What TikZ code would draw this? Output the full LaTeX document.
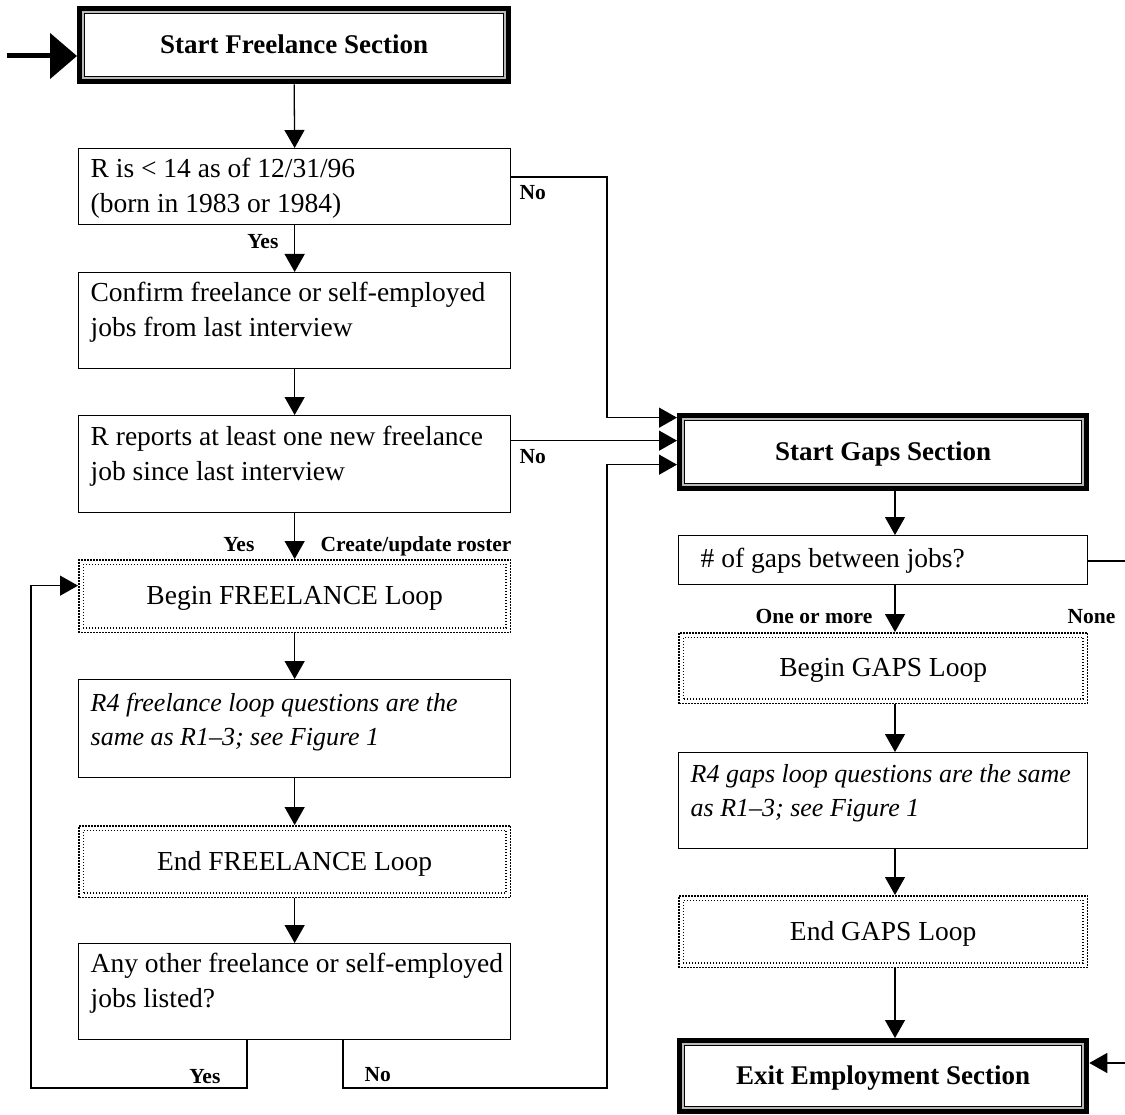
\documentclass[tikz,border=0pt]{standalone}
\usepackage{fontspec}
\setmainfont{Liberation Serif}
\usetikzlibrary{arrows.meta}

% heavy double frame of the section boxes
\newcommand\secframe[1]{%
  \draw[line width=5pt] ([xshift=2.5pt,yshift=2.5pt]#1.south west) rectangle ([xshift=-2.5pt,yshift=-2.5pt]#1.north east);
  \draw[gray!55,line width=2pt] ([xshift=6pt,yshift=6pt]#1.south west) rectangle ([xshift=-6pt,yshift=-6pt]#1.north east);
  \draw[line width=1.2pt] ([xshift=7.6pt,yshift=7.6pt]#1.south west) rectangle ([xshift=-7.6pt,yshift=-7.6pt]#1.north east);}
% double dotted frame of the loop boxes
\newcommand\loopframe[1]{%
  \draw[dotline] ([xshift=.8pt,yshift=.8pt]#1.south west) rectangle ([xshift=-.8pt,yshift=-.8pt]#1.north east);
  \draw[dotline] ([xshift=5.3pt,yshift=5.3pt]#1.south west) rectangle ([xshift=-5.3pt,yshift=-5.3pt]#1.north east);}

\begin{document}
\begin{tikzpicture}[x=1pt,y=-1pt,line width=1.3pt,
  plainbox/.style={draw,line width=1.3pt,anchor=north west,inner sep=0pt},
  framebox/.style={anchor=north west,inner sep=0pt,font=\fontsize{27}{33}\selectfont\bfseries,
    text height=17pt,text depth=0pt},
  loopbox/.style={anchor=north west,inner sep=0pt,font=\fontsize{27.5}{35}\selectfont,
    text height=17pt,text depth=0pt},
  dotline/.style={line width=1.6pt,dash pattern=on 1.5pt off 1.5pt},
  txt/.style={anchor=base west,align=left,inner sep=0pt,font=\fontsize{27.5}{35}\selectfont},
  itxt/.style={anchor=base west,align=left,inner sep=0pt,font=\fontsize{26}{34}\selectfont\itshape},
  lbl/.style={inner sep=0pt,font=\fontsize{21.5}{24}\selectfont\bfseries},
  arr/.style={line width=1.3pt,-{Triangle[length=18pt,width=20pt]}}]

\fill[white] (0,0) rectangle (1125,1115);
\useasboundingbox (0,0) rectangle (1125,1115);

% ---------- freelance column ----------
\node[framebox,minimum width=433pt,minimum height=77pt] (sf) at (77,6) {Start Freelance Section};
\secframe{sf}
\node[plainbox,minimum width=432pt,minimum height=76pt] (b2) at (78,148) {};
\node[plainbox,minimum width=432pt,minimum height=96pt] (b3) at (78,272) {};
\node[plainbox,minimum width=432pt,minimum height=97pt] (b4) at (78,415) {};
\node[loopbox,minimum width=432pt,minimum height=73pt] (l1) at (78,559) {Begin FREELANCE Loop};
\loopframe{l1}
\node[plainbox,minimum width=432pt,minimum height=98pt] (b5) at (78,679) {};
\node[loopbox,minimum width=432pt,minimum height=72pt] (l2) at (78,825) {End FREELANCE Loop};
\loopframe{l2}
\node[plainbox,minimum width=432pt,minimum height=96pt] (b6) at (78,943) {};

% texts placed by the baseline of their last line
\node[txt] (t2) at (90,213) {R is < 14 as of 12/31/96\\(born in 1983 or 1984)};
\node[txt] (t3) at (90,337) {Confirm freelance or self-employed\\jobs from last interview};
\node[txt] (t4) at (90,480) {R reports at least one new freelance\\job since last interview};
\node[itxt] (t5) at (90,745) {R4 freelance loop questions are the\\same as R1–3; see Figure 1};
\node[txt] (t6) at (90,1007) {Any other freelance or self-employed\\jobs listed?};

% ---------- gaps column ----------
\node[framebox,minimum width=411pt,minimum height=77pt] (sg) at (677,413) {Start Gaps Section};
\secframe{sg}
\node[plainbox,minimum width=409pt,minimum height=49pt] (g1) at (678,535) {};
\node[loopbox,minimum width=409pt,minimum height=71pt] (g2) at (678,632) {Begin GAPS Loop};
\loopframe{g2}
\node[plainbox,minimum width=409pt,minimum height=96pt] (g3) at (678,752) {};
\node[loopbox,minimum width=409pt,minimum height=72pt] (g4) at (678,895) {End GAPS Loop};
\loopframe{g4}
\node[framebox,minimum width=411pt,minimum height=75pt] (ex) at (677,1038) {Exit Employment Section};
\secframe{ex}

\node[txt] (tg1) at (700,567) {\# of gaps between jobs?};
\node[itxt] (tg3) at (690,816) {R4 gaps loop questions are the same\\as R1–3; see Figure 1};

% ---------- entry arrow ----------
\coordinate (entry) at (7,56);
\draw[line width=5pt,-{Triangle[length=27pt,width=45pt]}] (entry) -- (sf.west |- entry);

% ---------- main flow ----------
\draw[arr] (sf.south) -- (b2.north);
\draw[arr] (b2.south) -- (b3.north);
\draw[arr] (b3.south) -- (b4.north);
\draw[arr] (b4.south) -- (l1.north);
\draw[arr] (l1.south) -- (b5.north);
\draw[arr] (b5.south) -- (l2.north);
\draw[arr] (l2.south) -- (b6.north);

\coordinate (rc) at (895,0);
\draw[arr] (sg.south -| rc) -- (g1.north -| rc);
\draw[arr] (g1.south -| rc) -- (g2.north -| rc);
\draw[arr] (g2.south -| rc) -- (g3.north -| rc);
\draw[arr] (g3.south -| rc) -- (g4.north -| rc);
\draw[arr] (g4.south -| rc) -- (ex.north -| rc);

% ---------- branches into the gaps section ----------
\coordinate (sgin1) at ([yshift=34.5pt]sg.west);
\coordinate (sgin2) at ([yshift=11.5pt]sg.west);
\coordinate (sgin3) at ([yshift=-12.5pt]sg.west);
\coordinate (n1) at (607,177);
\draw[arr] (b2.east |- n1) -- (n1) |- (sgin1);
\draw[arr] (b4.east |- sgin2) -- (sgin2);

\coordinate (yesx) at (247,1088);
\coordinate (nox) at (343,1088);
\coordinate (loopx) at (31,1088);
\coordinate (rx) at (607,1088);
\coordinate (l1in) at ([yshift=10.5pt]l1.west);
\draw[arr] (b6.south -| yesx) -- (yesx) -- (loopx) |- (l1in);
\draw[arr] (b6.south -| nox) -- (nox) -- (rx) |- (sgin3);

\coordinate (gr) at (1127,561);
\coordinate (gr2) at (1127,1063);
\draw[arr] (g1.east |- gr) -- (gr) -- (gr2) -- (ex.east |- gr2);

% ---------- branch labels ----------
\node[lbl,anchor=base east] (y1) at (279,249) {Yes};
\node[lbl,anchor=base west] (no1) at (519,200) {No};
\node[lbl,anchor=base west] (no2) at (519,463) {No};
\node[lbl,anchor=base east] (y2) at (255,551) {Yes};
\node[lbl,anchor=base west] (cr) at (320,551) {Create/update roster};
\node[lbl,anchor=base east] (y3) at (221,1083) {Yes};
\node[lbl,anchor=base west] (no3) at (364,1081) {No};
\node[lbl,anchor=base east] (om) at (873,623) {One or more};
\node[lbl,anchor=base east] (none) at (1116,623) {None};
\end{tikzpicture}
\end{document}
